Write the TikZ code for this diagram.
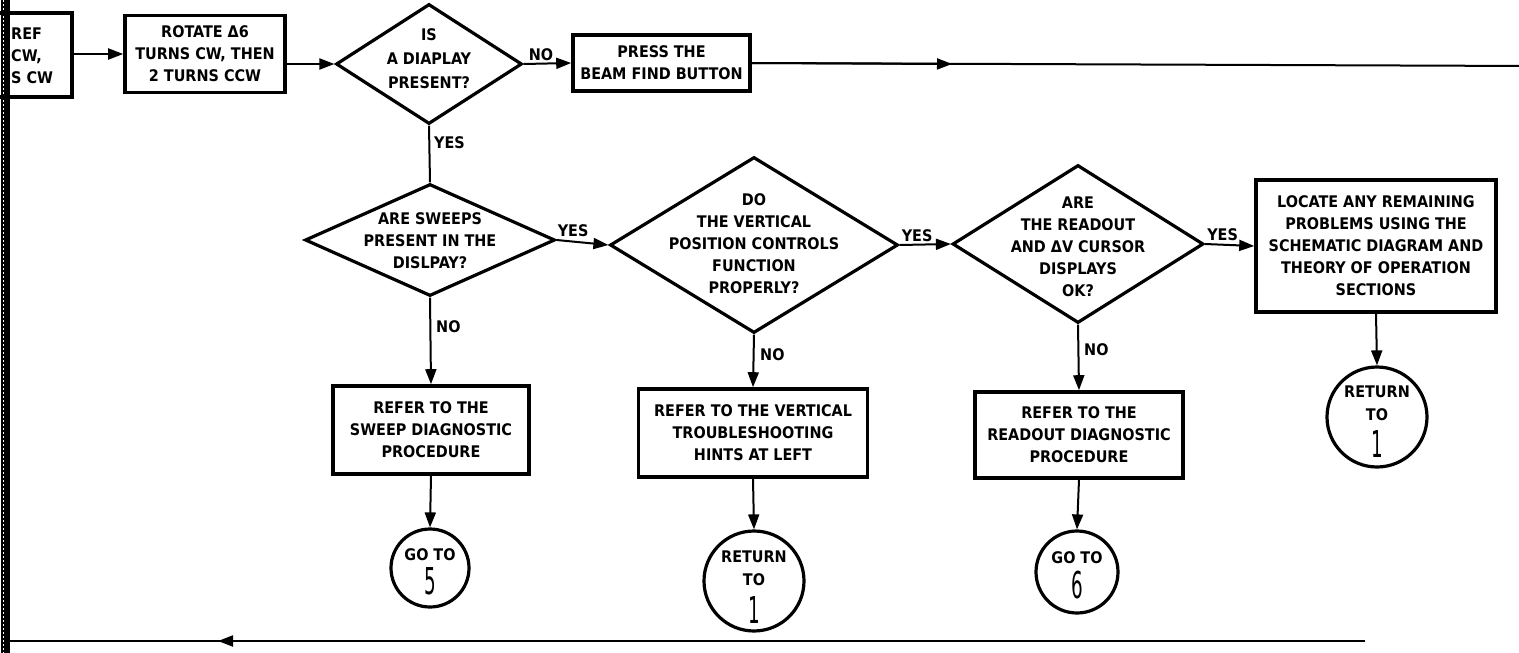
\documentclass[tikz,border=0pt]{standalone}
\usepackage{fontspec}
\usepackage{graphicx}
\newfontfamily\lettering{DejaVu Sans Condensed Bold}
\newfontfamily\digitfont{DejaVu Sans Condensed}
\usetikzlibrary{arrows.meta,shapes.geometric}
% tall, narrow numerals for the connector circles
\newcommand\bignum[1]{{\digitfont\fontsize{37}{37}\selectfont\scalebox{0.55}[1]{#1}}}

\begin{document}
\begin{tikzpicture}[x=1pt,y=-1pt,
  txt/.style={font=\lettering\fontsize{16}{22}\selectfont, align=center, inner sep=0pt},
  box/.style={txt, draw, rectangle, line width=3.6pt},
  dia/.style={draw, diamond, line width=3.2pt, inner sep=0pt},
  conn/.style={draw, circle, line width=3.2pt, inner sep=0pt},
  line/.style={line width=2pt},
  arr/.style={line width=2pt, -{Triangle[length=15pt,width=11pt]}},
  lbl/.style={txt}]
\clip (0,0) rectangle (1519,653);

% torn left edge of the sheet
\fill (0.5,0) rectangle (10,653);
\draw[white, line width=0.8pt, dash pattern=on 2pt off 2pt] (3,0) -- (3,653);

% process boxes
\node[box, minimum width=112pt, minimum height=84pt] (leftbox) at (16,55) {};
\node[txt, anchor=west, align=left] (lefttxt) at (11,56) {REF\\CW,\\S CW};
\node[box, minimum width=160pt, minimum height=77pt] (rotate) at (205,54) {ROTATE Δ6\\TURNS CW, THEN\\2 TURNS CCW};
\node[box, minimum width=177pt, minimum height=56pt] (press) at (661.5,63) {PRESS THE\\BEAM FIND BUTTON};
\node[box, minimum width=196pt, minimum height=88pt] (sweep) at (431,430) {REFER TO THE\\SWEEP DIAGNOSTIC\\PROCEDURE};
\node[box, minimum width=229pt, minimum height=88pt] (vert) at (753,433) {REFER TO THE VERTICAL\\TROUBLESHOOTING\\HINTS AT LEFT};
\node[box, minimum width=208pt, minimum height=86pt] (readout) at (1079,435) {REFER TO THE\\READOUT DIAGNOSTIC\\PROCEDURE};
\node[box, minimum width=240pt, minimum height=132pt] (locate) at (1376,246) {LOCATE ANY REMAINING\\PROBLEMS USING THE\\SCHEMATIC DIAGRAM AND\\THEORY OF OPERATION\\SECTIONS};

% decisions
\node[dia, minimum width=186pt, minimum height=120pt] (d1) at (429,64) {};
\node[txt] (d1t) at (429,59) {IS\\[2pt]A DIAPLAY\\[2pt]PRESENT?};
\node[dia, minimum width=250pt, minimum height=112pt] (d2) at (430,240) {};
\node[txt] (d2t) at (430,241) {ARE SWEEPS\\PRESENT IN THE\\DISLPAY?};
\node[dia, minimum width=288pt, minimum height=176pt] (d3) at (754,245) {};
\node[txt] (d3t) at (754,244) {DO\\THE VERTICAL\\POSITION CONTROLS\\FUNCTION\\PROPERLY?};
\node[dia, minimum width=251pt, minimum height=158pt] (d4) at (1078,244) {};
\node[txt] (d4t) at (1078,247) {ARE\\THE READOUT\\AND ΔV CURSOR\\DISPLAYS\\OK?};

% off-page connectors
\node[conn, minimum size=78pt] (c5) at (430,568) {};
\node[txt] (c5t) at ([yshift=-4pt]c5.center) {GO TO\\[6pt]\bignum{5}};
\node[conn, minimum size=100pt] (c1a) at (754,581) {};
\node[txt] (c1at) at ([yshift=-6pt]c1a.center) {RETURN\\[1pt]TO\\[10pt]\bignum{1}};
\node[conn, minimum size=82pt] (c6) at (1077,572) {};
\node[txt] (c6t) at ([yshift=-3pt]c6.center) {GO TO\\[6pt]\bignum{6}};
\node[conn, minimum size=100pt] (c1b) at (1377,417) {};
\node[txt] (c1bt) at ([yshift=-5pt]c1b.center) {RETURN\\[1pt]TO\\[9pt]\bignum{1}};

% return paths along the top and bottom of the sheet
\coordinate (topmid) at (952,64);
\coordinate (topend) at (1530,66);
\coordinate (botstart) at (1365,641);
\coordinate (botmid) at (218,641);
\coordinate (botend) at (9,641);

% connectors
\draw[arr] (leftbox.east |- rotate.west) -- (rotate.west);
\draw[arr] (rotate.east |- d1.west) -- (d1.west);
\draw[arr] (d1.east) -- (press.west);
\draw[line] (press.east) -- (topend);
\draw[arr] (press.east) -- (topmid);
\draw[line] (d1.south) -- (d2.north);
\draw[arr] (d2.east) -- (d3.west);
\draw[arr] (d3.east) -- (d4.west);
\draw[arr] (d4.east) -- (locate.west);
\draw[arr] (d2.south) -- (sweep.north);
\draw[arr] (d3.south) -- (vert.north);
\draw[arr] (d4.south) -- (readout.north);
\draw[arr] (sweep.south) -- (c5.north);
\draw[arr] (vert.south) -- (c1a.north);
\draw[arr] (readout.south) -- (c6.north);
\draw[arr] (locate.south) -- (c1b.north);
\draw[line] (botstart) -- (botend);
\draw[arr] (botstart) -- (botmid);

% branch labels
\node[lbl, anchor=south west] (no1) at ([xshift=5pt,yshift=3pt]d1.east) {NO};
\node[lbl, anchor=west] (yes1) at ([xshift=5pt,yshift=-17pt]d1.south) {YES};
\node[lbl, anchor=south west] (yes2) at ([xshift=1pt,yshift=3pt]d2.east) {YES};
\node[lbl, anchor=south west] (yes3) at ([xshift=2pt,yshift=3pt]d3.east) {YES};
\node[lbl, anchor=south west] (yes4) at ([xshift=2pt,yshift=3pt]d4.east) {YES};
\node[lbl, anchor=west] (no2) at ([xshift=6pt,yshift=-29pt]d2.south) {NO};
\node[lbl, anchor=west] (no3) at ([xshift=6pt,yshift=-20pt]d3.south) {NO};
\node[lbl, anchor=west] (no4) at ([xshift=6pt,yshift=-25pt]d4.south) {NO};
\end{tikzpicture}
\end{document}
